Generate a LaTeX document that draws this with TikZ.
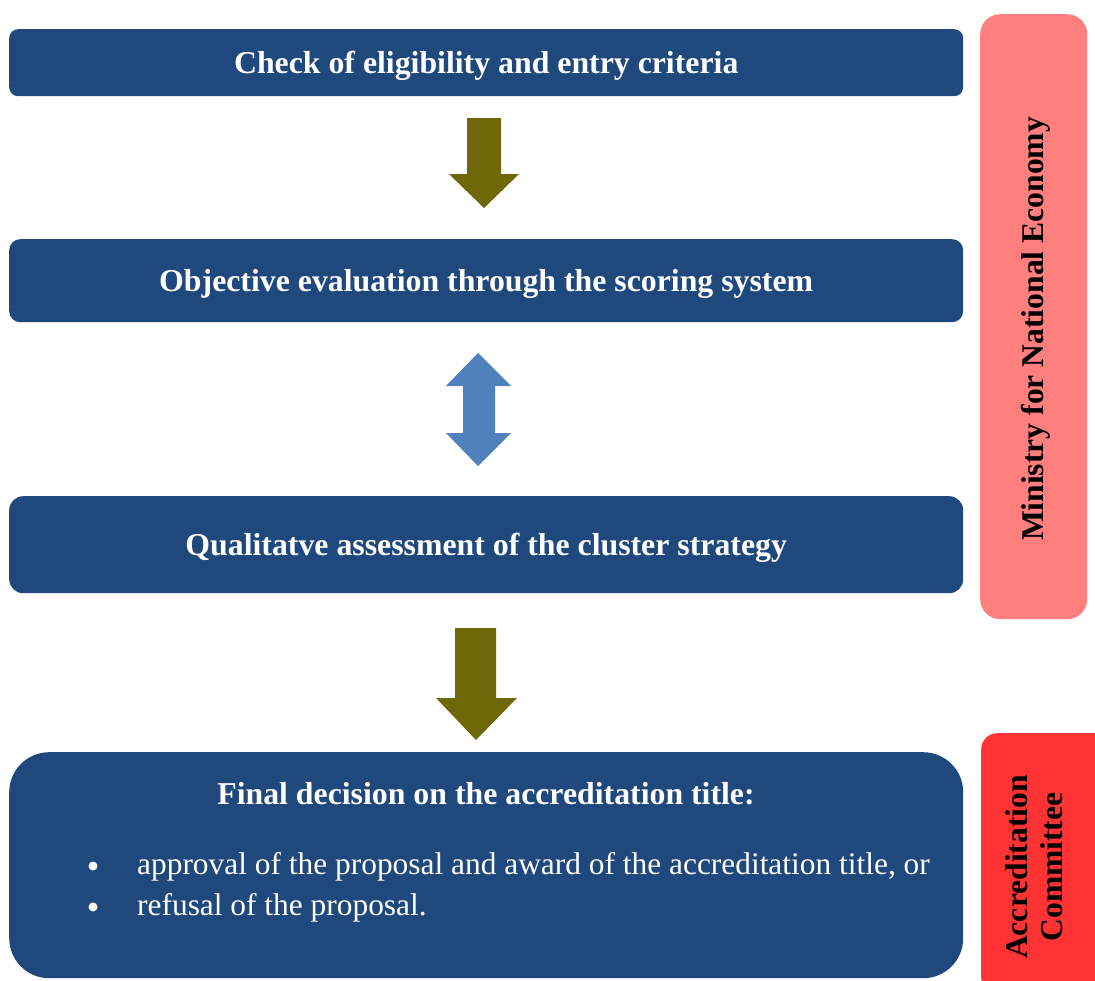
\documentclass[tikz,border=0pt]{standalone}
\usepackage{fontspec}
\setmainfont{Liberation Serif}
\definecolor{navy}{RGB}{31,73,125}
\definecolor{olive}{RGB}{111,104,8}
\definecolor{steel}{RGB}{79,129,189}
\definecolor{pinkbox}{RGB}{255,127,127}
\definecolor{redbox}{RGB}{255,51,51}
\begin{document}
\begin{tikzpicture}[x=1pt,y=-1pt,
  stepbox/.style={fill=navy, text=white, anchor=north west, inner sep=0pt, text depth=0pt,
    minimum width=954pt, font=\bfseries\fontsize{31.8}{36}\selectfont},
  sidebox/.style={anchor=north west, inner sep=0pt, minimum width=107pt},
  sidetext/.style={rotate=90, align=center, text=black, font=\bfseries\fontsize{31.6}{35}\selectfont},
  bodytext/.style={text=white, anchor=west, inner sep=0pt, font=\fontsize{31.4}{35}\selectfont}]
\useasboundingbox (0,0) rectangle (1095,980);
\clip (0,0) rectangle (1095,980);

% process steps
\node[stepbox, rounded corners=9pt, minimum height=67pt] (check) at (9,29)
  {Check of eligibility and entry criteria};
\node[stepbox, rounded corners=11pt, minimum height=83pt] (score) at (9,239)
  {Objective evaluation through the scoring system};
\node[stepbox, rounded corners=14pt, minimum height=97pt] (quali) at (9,496)
  {Qualitatve assessment of the cluster strategy};
\node[stepbox, rounded corners=40pt, minimum height=226pt] (final) at (9,752) {};
\node[text=white, font=\bfseries\fontsize{31.8}{36}\selectfont, inner sep=0pt] (ftitle) at (486,794)
  {Final decision on the accreditation title:};
\node[bodytext] (b1) at (137,867) {approval of the proposal and award of the accreditation title, or};
\node[bodytext] (b2) at (137,908) {refusal of the proposal.};
\fill[white] (93,866) circle (4.5pt);
\fill[white] (93,907) circle (4.5pt);

% responsible bodies
\node[sidebox, fill=pinkbox, rounded corners=20pt, minimum height=605pt] (ministry) at (980,14) {};
\node[sidetext] (mtext) at (1036,329) {Ministry for National Economy};
\node[sidebox, fill=redbox, rounded corners=16pt, minimum height=260pt, minimum width=130pt] (committee) at (981,733) {};
\node[sidetext] (ctext) at (1034,867) {Accreditation\\[0pt]Committee};

% block arrows between the steps
\fill[olive] (467,118) -- (501,118) -- (501,174) -- (519,174) -- (484,208)
  -- (449,174) -- (467,174) -- cycle;
\fill[steel] (478,353) -- (511,386) -- (495,386) -- (495,433) -- (511,433)
  -- (478,466) -- (446,433) -- (463,433) -- (463,386) -- (446,386) -- cycle;
\fill[olive] (455,628) -- (496,628) -- (496,698) -- (517,698) -- (476,740)
  -- (436,698) -- (455,698) -- cycle;
\end{tikzpicture}
\end{document}
